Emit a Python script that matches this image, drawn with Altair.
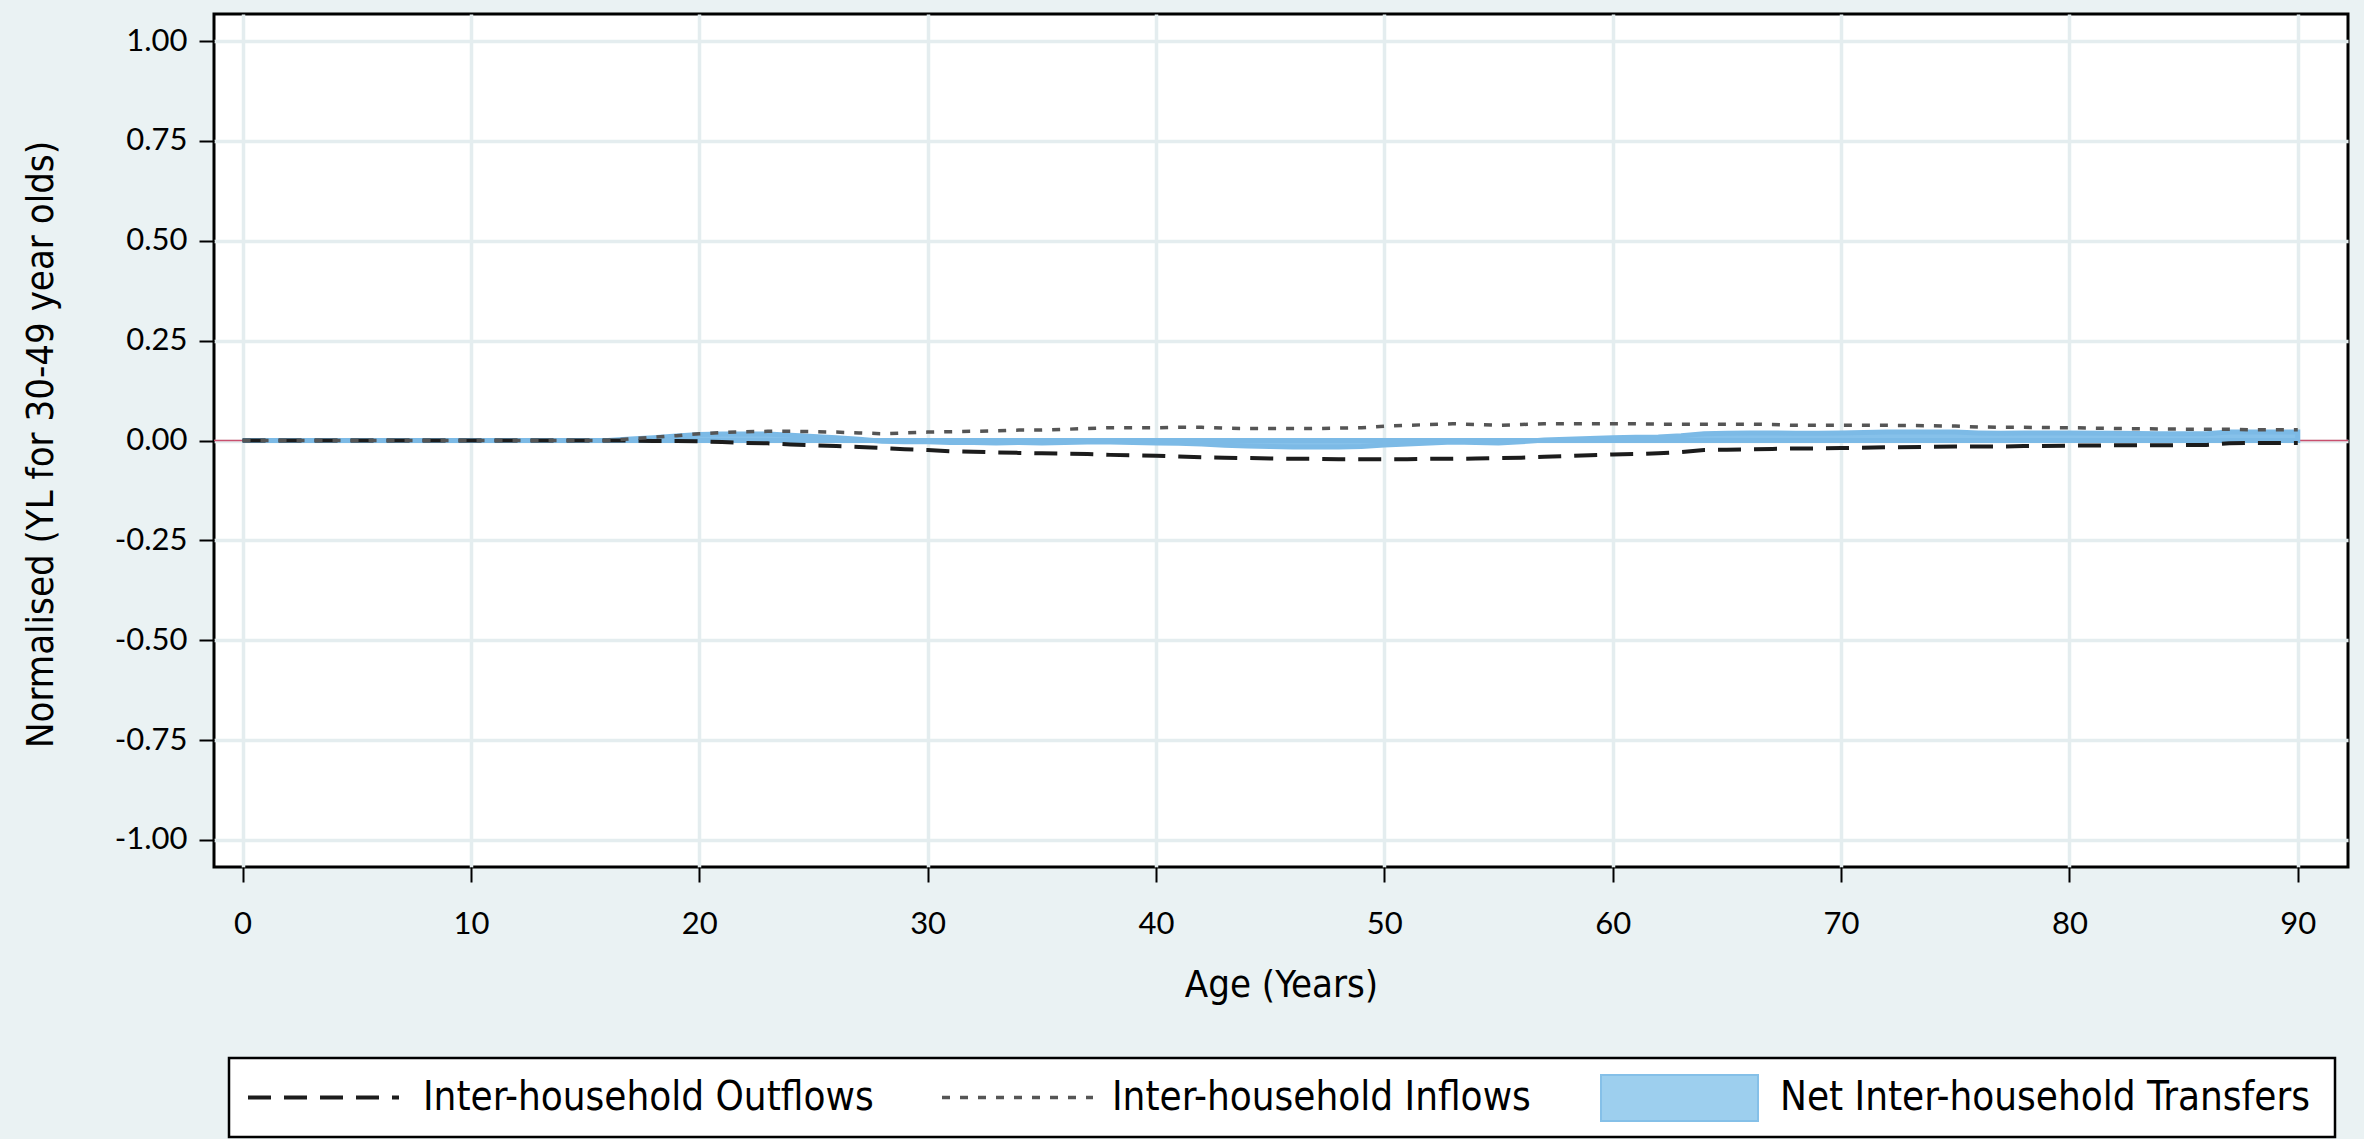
import altair as alt
import pandas as pd

# Age (years)
ages = [0, 5, 10, 15, 16, 17, 18, 19, 20, 21, 22, 23, 24, 25, 26, 27, 28, 29, 30,
        31, 32, 33, 34, 35, 36, 37, 38, 39, 40, 41, 42, 43, 44, 45, 46, 47, 48, 49, 50,
        51, 52, 53, 54, 55, 56, 57, 58, 59, 60, 61, 62, 63, 64, 65, 66, 67, 68, 69, 70,
        72, 74, 75, 76, 77, 78, 80, 82, 84, 86, 87, 88, 89, 90]

inflows = [0, 0, 0, 0, 0, 0.004, 0.008, 0.012, 0.017, 0.020, 0.022, 0.023, 0.023, 0.022, 0.021, 0.019, 0.017, 0.019, 0.021,
           0.022, 0.023, 0.024, 0.026, 0.026, 0.028, 0.030, 0.032, 0.032, 0.032, 0.033, 0.033, 0.031, 0.030, 0.030, 0.030, 0.030, 0.031, 0.032, 0.036,
           0.038, 0.040, 0.042, 0.040, 0.038, 0.040, 0.042, 0.042, 0.042, 0.042, 0.042, 0.041, 0.041, 0.041, 0.041, 0.041, 0.040, 0.038, 0.038, 0.038,
           0.038, 0.037, 0.036, 0.034, 0.033, 0.033, 0.032, 0.030, 0.029, 0.028, 0.028, 0.027, 0.027, 0.027]

outflows = [0, 0, 0, 0, 0, 0, -0.001, -0.001, -0.002, -0.004, -0.006, -0.007, -0.010, -0.012, -0.014, -0.016, -0.019, -0.022, -0.024,
            -0.027, -0.028, -0.030, -0.031, -0.032, -0.033, -0.034, -0.036, -0.037, -0.038, -0.040, -0.042, -0.043, -0.044, -0.045, -0.046, -0.046, -0.047, -0.047, -0.047,
            -0.047, -0.046, -0.046, -0.045, -0.044, -0.043, -0.041, -0.039, -0.037, -0.035, -0.034, -0.032, -0.029, -0.024, -0.023, -0.022, -0.021, -0.020, -0.020, -0.019,
            -0.017, -0.016, -0.015, -0.015, -0.015, -0.014, -0.013, -0.012, -0.012, -0.011, -0.007, -0.006, -0.006, -0.006]

net = [0, 0, 0, 0, 0, 0.004, 0.007, 0.011, 0.015, 0.016, 0.016, 0.016, 0.013, 0.010, 0.007, 0.003, -0.002, -0.003, -0.003,
       -0.005, -0.005, -0.006, -0.005, -0.006, -0.005, -0.004, -0.004, -0.005, -0.006, -0.007, -0.009, -0.012, -0.014, -0.015, -0.016, -0.016, -0.016, -0.015, -0.011,
       -0.009, -0.006, -0.004, -0.005, -0.006, -0.003, 0.001, 0.003, 0.005, 0.007, 0.008, 0.009, 0.012, 0.017, 0.018, 0.019, 0.019, 0.018, 0.018, 0.019,
       0.021, 0.021, 0.021, 0.019, 0.018, 0.019, 0.019, 0.018, 0.017, 0.017, 0.021, 0.021, 0.021, 0.021]

x_ticks = [0, 10, 20, 30, 40, 50, 60, 70, 80, 90]
y_ticks = [-1.0, -0.75, -0.5, -0.25, 0.0, 0.25, 0.5, 0.75, 1.0]

legend_labels = ["Inter-household Outflows", "Inter-household Inflows", "Net Inter-household Transfers"]

df = pd.DataFrame({"age": ages, "inflow": inflows, "outflow": outflows, "net": net})

W, H = 2134, 853
TITLE_FONT = "Liberation Sans Narrow, DejaVu Sans Condensed, sans-serif"
LABEL_FONT = "Lato, Open Sans, sans-serif"

xscale = alt.Scale(domain=[-1.25, 92.2], nice=False, zero=False)
yscale = alt.Scale(domain=[-1.068, 1.068], nice=False, zero=False)

xaxis = alt.Axis(values=x_ticks, title="Age (Years)", titleY=118, titleBaseline="middle",
                 labelPadding=27, format="d")
yaxis = alt.Axis(values=y_ticks, title="Normalised (YL for 30-49 year olds)",
                 titleX=-173, titleY=430, titleAngle=270, titleBaseline="middle", titleAlign="center",
                 labelPadding=12,
                 labelExpr="datum.value < 0 ? '-' + format(-datum.value, '.2f') : format(datum.value, '.2f')")

base = alt.Chart(df)

zero_line = base.mark_rule(color="#c8506e", strokeWidth=1.5).encode(
    y=alt.Y(datum=0, scale=yscale, axis=yaxis),
    x=alt.value(0), x2=alt.value(W)
).transform_filter("datum.age == 0")

area = base.mark_area(color="#86c1ea", stroke="#7cbae6", strokeWidth=5, opacity=1).encode(
    x=alt.X("age:Q", scale=xscale, axis=xaxis),
    y=alt.Y("net:Q", scale=yscale, axis=yaxis),
    y2=alt.datum(0),
)

out_line = base.mark_line(color="#1c1c1c", strokeWidth=4, strokeDash=[23, 13]).encode(
    x=alt.X("age:Q", scale=xscale, axis=xaxis),
    y=alt.Y("outflow:Q", scale=yscale, axis=yaxis),
)

in_line = base.mark_line(color="#555555", strokeWidth=3.5, strokeDash=[8, 10]).encode(
    x=alt.X("age:Q", scale=xscale, axis=xaxis),
    y=alt.Y("inflow:Q", scale=yscale, axis=yaxis),
)

one = alt.Data(values=[{"k": 1}])
LY = 1083.5

leg_box = alt.Chart(one).mark_rect(fill="white", stroke="black", strokeWidth=2.5).encode(
    x=alt.value(15), x2=alt.value(2121), y=alt.value(1044), y2=alt.value(1123))
leg_dash = alt.Chart(one).mark_rule(color="#1c1c1c", strokeWidth=4, strokeDash=[23, 13]).encode(
    x=alt.value(34), x2=alt.value(185), y=alt.value(LY))
leg_dot = alt.Chart(one).mark_rule(color="#555555", strokeWidth=3.5, strokeDash=[8, 10]).encode(
    x=alt.value(728), x2=alt.value(879), y=alt.value(LY))
leg_rect = alt.Chart(one).mark_rect(fill="#9dcfee", stroke="#85c0e8", strokeWidth=2).encode(
    x=alt.value(1387), x2=alt.value(1544), y=alt.value(1061), y2=alt.value(1107))

def leg_text(xpos, label):
    return alt.Chart(one).mark_text(align="left", baseline="middle", font=TITLE_FONT,
                                    fontSize=40, color="black", text=label).encode(
        x=alt.value(xpos), y=alt.value(LY))

chart = alt.layer(
    zero_line, area, out_line, in_line,
    leg_box, leg_dash, leg_dot, leg_rect,
    leg_text(209, legend_labels[0]), leg_text(898, legend_labels[1]), leg_text(1566, legend_labels[2]),
).properties(
    width=W, height=H,
    autosize=alt.AutoSizeParams(type="none"),
    padding={"left": 214, "top": 14, "right": 16, "bottom": 272},
    background="#eaf2f3",
).configure_view(
    fill="white", stroke="black", strokeWidth=3
).configure_axis(
    grid=True, gridColor="#e4edef", gridWidth=3.5, domain=False,
    tickColor="black", tickWidth=2, tickSize=15,
    labelFont=LABEL_FONT, labelFontSize=31, labelColor="black",
    titleFont=TITLE_FONT, titleFontSize=38, titleFontWeight="normal", titleColor="black",
)

chart.save("out.html", embed_options={"renderer": "svg", "actions": False})
